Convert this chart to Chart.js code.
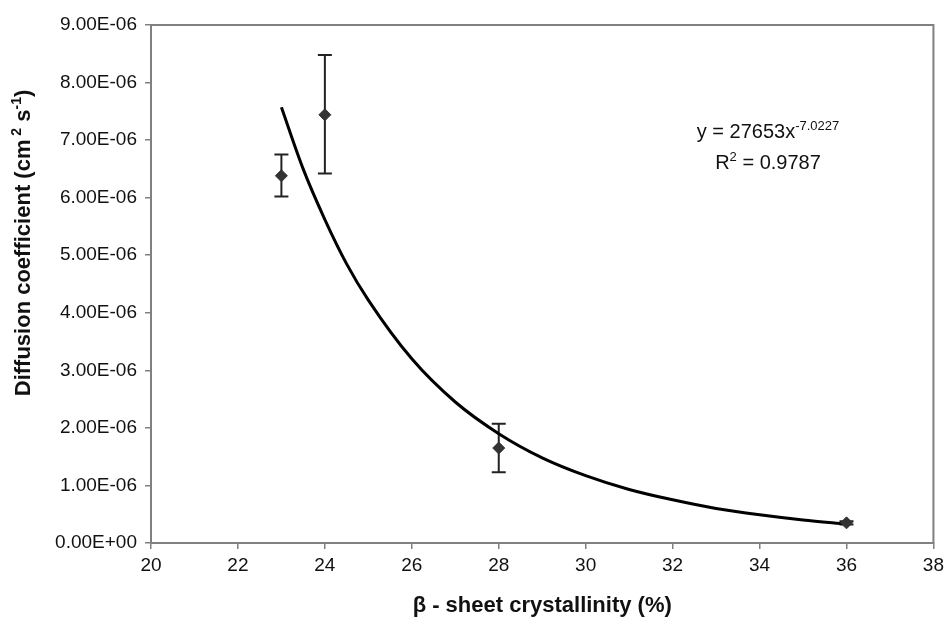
<!DOCTYPE html>
<html>
<head>
<meta charset="utf-8">
<script src="https://cdn.jsdelivr.net/npm/chart.js@4.4.1/dist/chart.umd.min.js"></script>
<style>
  html, body { margin: 0; padding: 0; background: #fff; }
  #wrap { width: 949px; height: 625px; }
</style>
</head>
<body>
<div id="wrap"><canvas id="chart"></canvas></div>
<script>
// Measured points (beta-sheet crystallinity %, diffusion coefficient)
const crystallinity = [23, 24, 28, 36];
const diffusion = [6.38e-6, 7.44e-6, 1.65e-6, 0.35e-6];
const errLow = [6.02e-6, 6.42e-6, 1.23e-6, 0.32e-6];
const errHigh = [6.75e-6, 8.48e-6, 2.07e-6, 0.38e-6];

// Power trend line
const trendX = [23, 23.5, 24, 24.5, 25, 26, 27, 28, 29, 30, 31, 32, 33, 34, 35, 36];
const trendY = [7.57e-6, 6.50e-6, 5.62e-6, 4.85e-6, 4.22e-6, 3.20e-6, 2.45e-6, 1.90e-6,
                1.48e-6, 1.17e-6, 0.93e-6, 0.75e-6, 0.60e-6, 0.49e-6, 0.40e-6, 0.33e-6];

// Axis ticks
const xTicks = [20, 22, 24, 26, 28, 30, 32, 34, 36, 38];
const yTicks = [0, 1e-6, 2e-6, 3e-6, 4e-6, 5e-6, 6e-6, 7e-6, 8e-6, 9e-6];

const FONT = "'Liberation Sans', Arial, sans-serif";
const AXIS_GREY = '#808080';

// Excel style: 9.00E-06
function sci(v) {
    if (v === 0) return '0.00E+00';
    const e = Math.floor(Math.log10(Math.abs(v)) + 1e-9);
    const m = v / Math.pow(10, e);
    return m.toFixed(2) + 'E' + (e < 0 ? '-' : '+') + String(Math.abs(e)).padStart(2, '0');
}

// Error bars under the markers
const errorBars = {
    id: 'errorBars',
    beforeDatasetsDraw(chart) {
        const ctx = chart.ctx;
        const xs = chart.scales.x, ys = chart.scales.y;
        ctx.save();
        ctx.strokeStyle = '#222';
        ctx.lineWidth = 2;
        for (let i = 0; i < crystallinity.length; i++) {
            const x = xs.getPixelForValue(crystallinity[i]);
            const y1 = ys.getPixelForValue(errLow[i]);
            const y2 = ys.getPixelForValue(errHigh[i]);
            ctx.beginPath();
            ctx.moveTo(x, y1); ctx.lineTo(x, y2);
            ctx.moveTo(x - 7, y1); ctx.lineTo(x + 7, y1);
            ctx.moveTo(x - 7, y2); ctx.lineTo(x + 7, y2);
            ctx.stroke();
        }
        ctx.restore();
    }
};

// draws a run of [text, superscript?] pieces centred on cx
function drawRich(ctx, pieces, cx, y, size, supSize, weight) {
    let total = 0;
    pieces.forEach(p => {
        ctx.font = weight + ' ' + (p[1] ? supSize : size) + 'px ' + FONT;
        p.w = ctx.measureText(p[0]).width;
        total += p.w;
    });
    let x = cx - total / 2;
    pieces.forEach(p => {
        ctx.font = weight + ' ' + (p[1] ? supSize : size) + 'px ' + FONT;
        ctx.fillText(p[0], x, p[1] ? y - size * 0.42 : y);
        x += p.w;
    });
}

// Top and right edges of the plot box, y title, equation text
const decorations = {
    id: 'decorations',
    afterDraw(chart) {
        const ctx = chart.ctx;
        const a = chart.chartArea;
        ctx.save();
        ctx.strokeStyle = AXIS_GREY;
        ctx.lineWidth = 2;
        ctx.beginPath();
        ctx.moveTo(a.left, a.top);
        ctx.lineTo(a.right, a.top);
        ctx.lineTo(a.right, a.bottom);
        ctx.stroke();

        // y axis title
        ctx.fillStyle = '#111';
        ctx.translate(30, 243);
        ctx.rotate(-Math.PI / 2);
        ctx.textBaseline = 'alphabetic';
        drawRich(ctx, [['Diffusion coefficient (cm', false], [' 2', true], [' s', false], ['-1', true], [')', false]],
                 0, 0, 22, 14, 'bold');
        ctx.restore();

        // trend equation
        ctx.save();
        ctx.fillStyle = '#111';
        ctx.textBaseline = 'alphabetic';
        drawRich(ctx, [['y = 27653x', false], ['-7.0227', true]], 768, 138, 20, 13, 'normal');
        drawRich(ctx, [['R', false], ['2', true], [' = 0.9787', false]], 768, 169, 20, 13, 'normal');
        ctx.restore();
    }
};

const ctx = document.getElementById('chart');

new Chart(ctx, {
    type: 'scatter',
    data: {
        datasets: [
            {
                label: 'Measured',
                data: crystallinity.map((x, i) => ({ x: x, y: diffusion[i] })),
                pointStyle: 'rectRot',
                pointRadius: 6,
                backgroundColor: '#333',
                borderColor: '#333',
                borderWidth: 1,
                order: 1
            },
            {
                label: 'Power trend',
                data: trendX.map((x, i) => ({ x: x, y: trendY[i] })),
                showLine: true,
                borderColor: '#000',
                borderWidth: 3,
                pointRadius: 0,
                cubicInterpolationMode: 'monotone',
                order: 2
            }
        ]
    },
    options: {
        responsive: true,
        maintainAspectRatio: false,
        animation: false,
        layout: { padding: { top: 25, right: 15, left: 0, bottom: 0 } },
        plugins: {
            legend: { display: false },
            tooltip: { enabled: false }
        },
        scales: {
            x: {
                type: 'linear',
                min: 20,
                max: 38,
                afterBuildTicks: scale => { scale.ticks = xTicks.map(v => ({ value: v })); },
                afterFit: scale => { scale.height = 82; },
                grid: { drawOnChartArea: false, drawTicks: true, tickLength: 6, color: AXIS_GREY, lineWidth: 1.5 },
                border: { color: AXIS_GREY, width: 2 },
                ticks: { color: '#111', padding: 5, font: { family: FONT, size: 19 } },
                title: {
                    display: true,
                    text: 'β - sheet crystallinity (%)',
                    color: '#111',
                    font: { family: FONT, size: 22, weight: 'bold' },
                    padding: { top: 0, bottom: 6 }
                }
            },
            y: {
                type: 'linear',
                min: 0,
                max: 9e-6,
                afterBuildTicks: scale => { scale.ticks = yTicks.map(v => ({ value: v })); },
                afterFit: scale => { scale.width = 151; },
                grid: { drawOnChartArea: false, drawTicks: true, tickLength: 6, color: AXIS_GREY, lineWidth: 1.5 },
                border: { color: AXIS_GREY, width: 2 },
                ticks: {
                    color: '#111',
                    padding: 8,
                    font: { family: FONT, size: 19 },
                    callback: v => sci(v)
                }
            }
        }
    },
    plugins: [errorBars, decorations]
});
</script>
</body>
</html>
